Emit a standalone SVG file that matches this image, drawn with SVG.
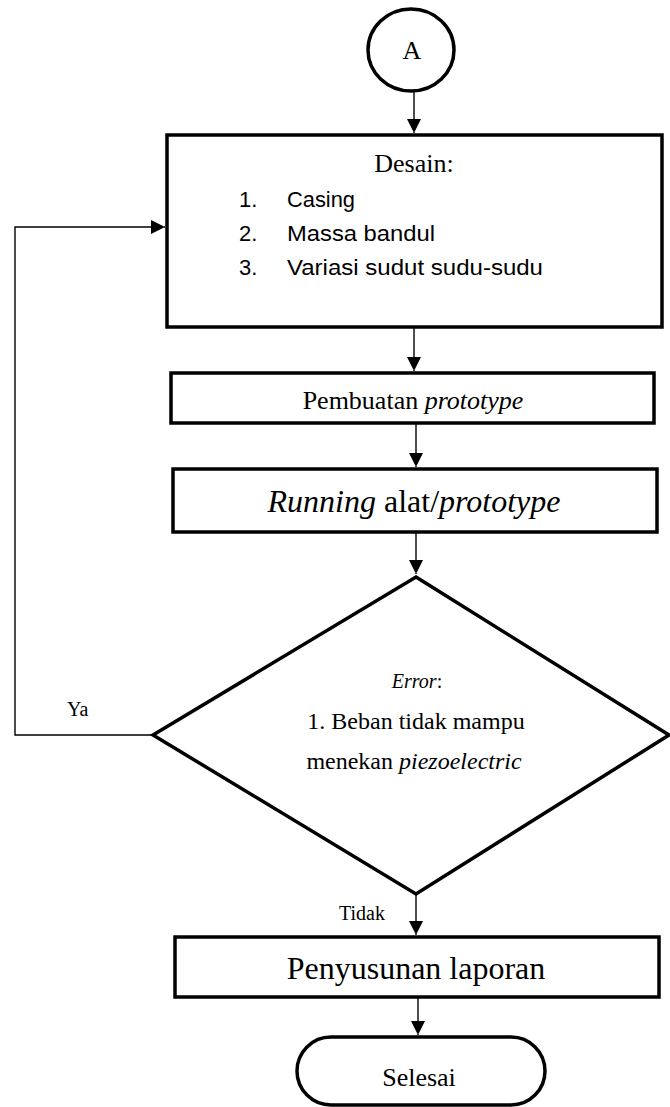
<svg xmlns="http://www.w3.org/2000/svg" width="670" height="1107" viewBox="0 0 670 1107">
<style>
.node{fill:#fff;stroke:#000;stroke-width:3.5}
.conn{fill:none;stroke:#000;stroke-width:1.4}
.t{font-family:"Liberation Serif","Times New Roman",serif;fill:#000}
.s{font-family:"Liberation Sans",Arial,sans-serif;fill:#000}
.i{font-style:italic}
</style>
<defs>
<marker id="ah" viewBox="0 0 12 14" refX="14" refY="7" markerWidth="12" markerHeight="14" markerUnits="userSpaceOnUse" orient="auto">
<path d="M0,0 L14,7 L0,14 Z" fill="#000"/>
</marker>
</defs>
<rect width="670" height="1107" fill="#fff"/>
<g id="connectors">
<line class="conn" x1="414" y1="91" x2="414" y2="133" marker-end="url(#ah)"/>
<line class="conn" x1="414" y1="327" x2="414" y2="371" marker-end="url(#ah)"/>
<line class="conn" x1="416" y1="423" x2="416" y2="467" marker-end="url(#ah)"/>
<line class="conn" x1="416" y1="532" x2="416" y2="574" marker-end="url(#ah)"/>
<line class="conn" x1="416" y1="894" x2="416" y2="935" marker-end="url(#ah)"/>
<line class="conn" x1="418" y1="997" x2="418" y2="1035" marker-end="url(#ah)"/>
<polyline class="conn" points="153,735 15,735 15,227 165,227" marker-end="url(#ah)"/>
<text class="t" x="67" y="716" font-size="20">Ya</text>
<text class="t" x="339" y="920" font-size="20">Tidak</text>
</g>
<g id="nodeA">
<ellipse class="node" cx="411" cy="50" rx="43" ry="41" stroke-width="2"/>
<text class="t" x="412" y="59" font-size="26" text-anchor="middle">A</text>
</g>
<g id="desain">
<rect class="node" x="167" y="135" width="495" height="192"/>
<text class="t" x="414" y="172" font-size="26" text-anchor="middle">Desain:</text>
<text class="s" x="239" y="207" font-size="22">1.</text>
<text class="s" x="287" y="207" font-size="22" textLength="68" lengthAdjust="spacingAndGlyphs">Casing</text>
<text class="s" x="239" y="241" font-size="22">2.</text>
<text class="s" x="287" y="241" font-size="22" textLength="148" lengthAdjust="spacingAndGlyphs">Massa bandul</text>
<text class="s" x="239" y="275" font-size="22">3.</text>
<text class="s" x="287" y="275" font-size="22" textLength="256" lengthAdjust="spacingAndGlyphs">Variasi sudut sudu-sudu</text>
</g>
<g id="pembuatan">
<rect class="node" x="171" y="373" width="483" height="50" stroke-width="3"/>
<text class="t" x="413" y="409" font-size="26" text-anchor="middle">Pembuatan <tspan class="i">prototype</tspan></text>
</g>
<g id="running">
<rect class="node" x="173" y="469" width="484" height="63" stroke-width="3"/>
<text class="t" x="414" y="512" font-size="32" text-anchor="middle"><tspan class="i">Running</tspan> alat/<tspan class="i">prototype</tspan></text>
</g>
<g id="decision">
<polygon class="node" points="416,577 669,735 416,894 153,735"/>
<text class="t i" x="417" y="688" font-size="20" text-anchor="middle">Error<tspan font-style="normal">:</tspan></text>
<text class="t" x="416" y="729" font-size="24" text-anchor="middle">1. Beban tidak mampu</text>
<text class="t" x="414" y="769" font-size="24" text-anchor="middle">menekan <tspan class="i">piezoelectric</tspan></text>
</g>
<g id="penyusunan">
<rect class="node" x="175" y="937" width="484" height="60" stroke-width="3"/>
<text class="t" x="416" y="979" font-size="32" text-anchor="middle">Penyusunan laporan</text>
</g>
<g id="selesai">
<rect class="node" x="297" y="1037" width="248" height="68" rx="34" ry="34"/>
<text class="t" x="419" y="1086" font-size="26" text-anchor="middle">Selesai</text>
</g>
</svg>
